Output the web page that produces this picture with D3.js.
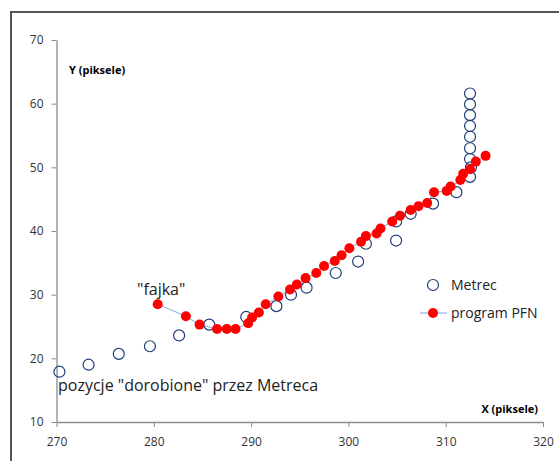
<!DOCTYPE html>
<html>
<head>
<meta charset="utf-8">
<script src="https://cdn.jsdelivr.net/npm/d3@7"></script>
<style>
  body { margin: 0; background: #fff; }
  svg { display: block; font-family: "Open Sans", "Liberation Sans", sans-serif; }
</style>
</head>
<body>
<svg id="chart" width="559" height="461"></svg>
<script>
// Data
const metrecX = [270.3, 273.3, 276.4, 279.6, 282.6, 285.7, 289.5, 292.6, 294.1, 295.7,
    298.7, 301.0, 301.8, 304.9, 304.9, 306.4, 308.7, 311.1, 312.5, 312.6,
    312.5, 312.5, 312.5, 312.5, 312.5, 312.5, 312.5];
const metrecY = [17.9, 19.0, 20.7, 21.9, 23.6, 25.3, 26.5, 28.2, 30.0, 31.1,
    33.4, 35.2, 38.0, 38.5, 41.5, 42.7, 44.3, 46.1, 48.5, 50.0,
    51.3, 53.0, 54.8, 56.5, 58.2, 59.9, 61.6];

const pfnX = [280.4, 283.3, 284.7, 286.5, 287.5, 288.4, 289.7, 290.1, 290.8, 291.5,
    292.8, 294.0, 294.7, 295.6, 296.7, 297.5, 298.6, 299.3, 300.1, 301.3,
    301.8, 302.9, 303.3, 304.5, 305.3, 306.4, 307.2, 308.1, 308.8, 310.1,
    310.5, 311.5, 311.8, 312.5, 313.1, 314.1];
const pfnY = [28.5, 26.6, 25.3, 24.6, 24.6, 24.6, 25.5, 26.4, 27.2, 28.5,
    29.7, 30.8, 31.6, 32.6, 33.4, 34.5, 35.3, 36.2, 37.3, 38.3,
    39.2, 39.6, 40.4, 41.5, 42.4, 43.3, 43.9, 44.4, 46.1, 46.3,
    47.0, 48.0, 49.0, 49.7, 50.9, 51.8];

const xTicks = [270, 280, 290, 300, 310, 320];
const yTicks = [10, 20, 30, 40, 50, 60, 70];

const svg = d3.select("#chart");
const x = d3.scaleLinear().domain([270, 320]).range([56.5, 543]);
const y = d3.scaleLinear().domain([10, 70]).range([422, 40]);

// outer frame (only top/left visible)
svg.append("path")
    .attr("d", "M11,461 L11,12 L559,12")
    .attr("fill", "none")
    .attr("stroke", "#555")
    .attr("stroke-width", 2);

// axes
const xAxis = svg.append("g")
    .attr("transform", `translate(0,${y(10)})`)
    .call(d3.axisBottom(x).tickValues(xTicks).tickSize(5).tickPadding(10).tickSizeOuter(0));
const yAxis = svg.append("g")
    .attr("transform", `translate(${x(270)},0)`)
    .call(d3.axisLeft(y).tickValues(yTicks).tickSize(5).tickPadding(8).tickSizeOuter(0));

[xAxis, yAxis].forEach(g => {
    g.select(".domain").attr("stroke", "#8c8c8c").attr("stroke-width", 1.3);
    g.selectAll(".tick line").attr("stroke", "#8c8c8c");
    g.selectAll(".tick text")
        .attr("fill", "#333")
        .style("font-size", "12px")
        .style("font-family", "'Open Sans', sans-serif");
});

// axis titles
svg.append("text").attr("x", 69).attr("y", 74)
    .style("font-size", "11px").style("font-weight", "bold")
    .text("Y (piksele)");
svg.append("text").attr("x", 538).attr("y", 413)
    .attr("text-anchor", "end")
    .style("font-size", "11px").style("font-weight", "bold")
    .text("X (piksele)");

// PFN line + dots
const pfn = pfnX.map((d, i) => [d, pfnY[i]]);
svg.append("path")
    .datum(pfn)
    .attr("fill", "none")
    .attr("stroke", "#7fa9dc")
    .attr("stroke-width", 1)
    .attr("d", d3.line().x(d => x(d[0])).y(d => y(d[1])));

const metrec = metrecX.map((d, i) => [d, metrecY[i]]);
svg.append("g").selectAll("circle")
    .data(metrec)
    .enter()
    .append("circle")
    .attr("cx", d => x(d[0]))
    .attr("cy", d => y(d[1]))
    .attr("r", 5.5)
    .attr("fill", "none")
    .attr("stroke", "#1f3d7a")
    .attr("stroke-width", 1.2);

svg.append("g").selectAll("circle")
    .data(pfn)
    .enter()
    .append("circle")
    .attr("cx", d => x(d[0]))
    .attr("cy", d => y(d[1]))
    .attr("r", 5)
    .attr("fill", "#ff0000");

// annotations
svg.append("text").attr("x", 137).attr("y", 295)
    .attr("fill", "#222")
    .style("font-size", "16px")
    .text("\"fajka\"");
svg.append("text").attr("x", 58).attr("y", 391)
    .attr("fill", "#222")
    .style("font-size", "16px")
    .text("pozycje \"dorobione\" przez Metreca");

// legend
svg.append("circle").attr("cx", 433).attr("cy", 285).attr("r", 5.5)
    .attr("fill", "none").attr("stroke", "#1f3d7a").attr("stroke-width", 1.2);
svg.append("text").attr("x", 451).attr("y", 290)
    .attr("fill", "#222").style("font-size", "14px").text("Metrec");
svg.append("line").attr("x1", 420).attr("x2", 447).attr("y1", 313).attr("y2", 313)
    .attr("stroke", "#7fa9dc").attr("stroke-width", 1);
svg.append("circle").attr("cx", 433).attr("cy", 313).attr("r", 5).attr("fill", "#ff0000");
svg.append("text").attr("x", 451).attr("y", 318)
    .attr("fill", "#222").style("font-size", "14px").text("program PFN");
</script>
</body>
</html>
